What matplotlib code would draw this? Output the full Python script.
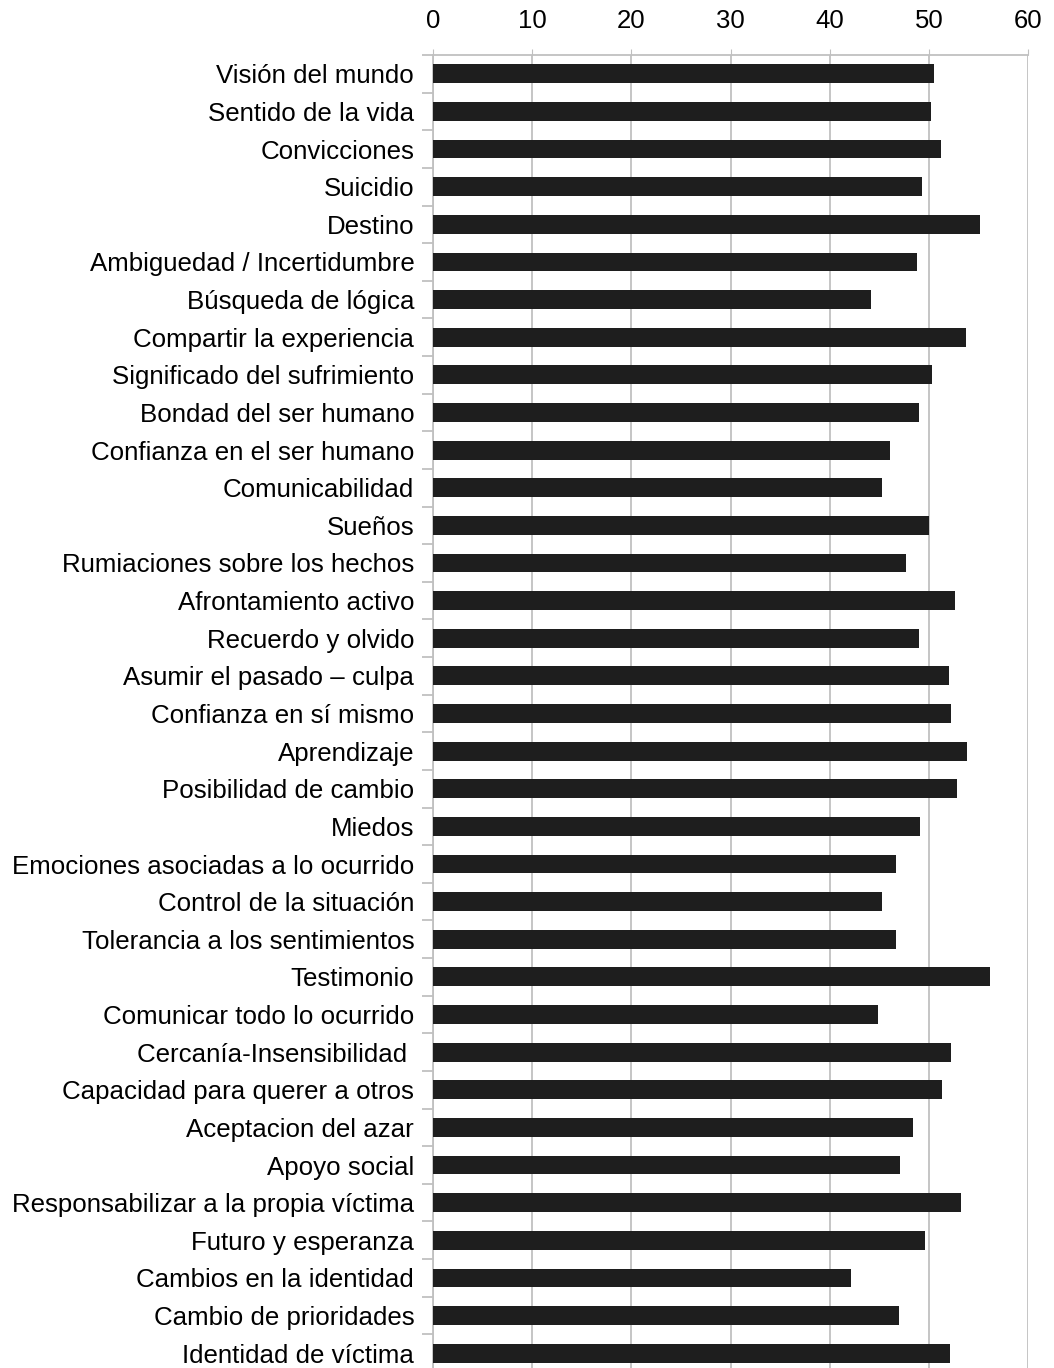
import matplotlib
matplotlib.use("Agg")
import matplotlib.pyplot as plt
import numpy as np

categories = [
    "Visión del mundo", "Sentido de la vida", "Convicciones", "Suicidio", "Destino",
    "Ambiguedad / Incertidumbre", "Búsqueda de lógica", "Compartir la experiencia",
    "Significado del sufrimiento", "Bondad del ser humano", "Confianza en el ser humano",
    "Comunicabilidad", "Sueños", "Rumiaciones sobre los hechos", "Afrontamiento activo",
    "Recuerdo y olvido", "Asumir el pasado – culpa", "Confianza en sí mismo",
    "Aprendizaje", "Posibilidad de cambio", "Miedos", "Emociones asociadas a lo ocurrido",
    "Control de la situación", "Tolerancia a los sentimientos", "Testimonio",
    "Comunicar todo lo ocurrido", "Cercanía-Insensibilidad ", "Capacidad para querer a otros",
    "Aceptacion del azar", "Apoyo social", "Responsabilizar a la propia víctima",
    "Futuro y esperanza", "Cambios en la identidad", "Cambio de prioridades",
    "Identidad de víctima",
]
values = [
    50.5, 50.2, 51.2, 49.3, 55.2,
    48.8, 44.2, 53.7,
    50.3, 49.0, 46.1,
    45.3, 50.0, 47.7, 52.6,
    49.0, 52.0, 52.2,
    53.8, 52.8, 49.1, 46.7,
    45.3, 46.7, 56.2,
    44.9, 52.2, 51.3,
    48.4, 47.1, 53.2,
    49.6, 42.2, 47.0,
    52.1,
]
xticks = [0, 10, 20, 30, 40, 50, 60]

plt.rcParams['font.family'] = ['Liberation Sans', 'DejaVu Sans']
grid_col = "#c0c0c0"

fig = plt.figure(figsize=(10.54, 13.68), dpi=100)
ax = fig.add_axes([433 / 1054, -4 / 1368, (1028 - 433) / 1054, (1372 - 55) / 1368])

y = np.arange(len(categories))
ax.barh(y, values, height=0.5, color="#1e1e1e", zorder=3)

ax.set_xlim(0, 60)
ax.set_ylim(len(categories) - 0.5, -0.5)
ax.set_xticks(xticks)
ax.xaxis.tick_top()
ax.tick_params(axis="x", which="major", length=4, color=grid_col, labelsize=18.5, pad=12, labelcolor="black")
ax.grid(axis="x", color=grid_col, linewidth=1.3, zorder=0)

ax.set_yticks(y)
ax.set_yticklabels(categories)
ax.set_yticks(np.arange(len(categories) + 1) - 0.5, minor=True)
ax.tick_params(axis="y", which="major", length=0, labelsize=18.6, pad=13.5)
ax.tick_params(axis="y", which="minor", length=8, color=grid_col, width=1.3)

for side in ["left", "top"]:
    ax.spines[side].set_color(grid_col)
    ax.spines[side].set_linewidth(1.3)
for side in ["right", "bottom"]:
    ax.spines[side].set_visible(False)

fig.savefig("out.png", dpi=100)
